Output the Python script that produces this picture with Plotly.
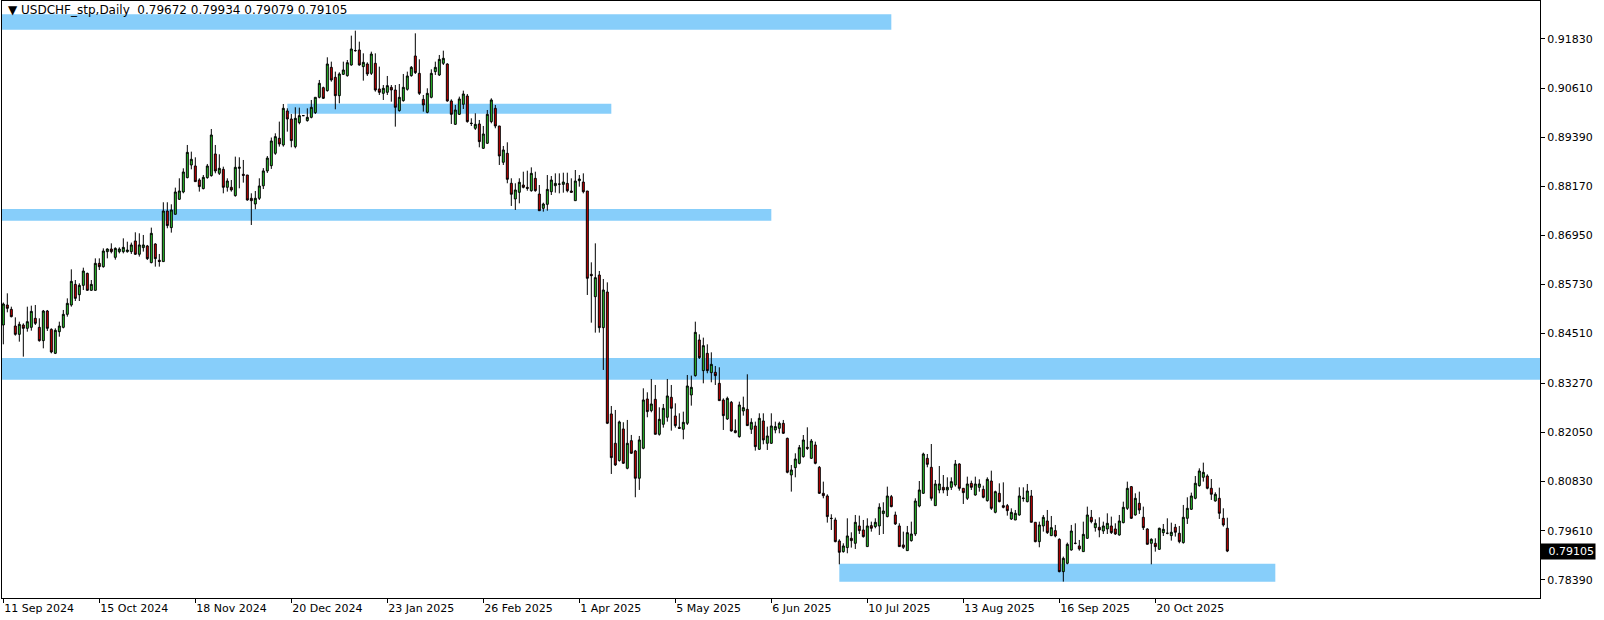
import pandas as pd
import plotly.graph_objects as go

# ---------------- data ----------------
symbol_title = "\u25BC USDCHF_stp,Daily\u00a0\u00a00.79672 0.79934 0.79079 0.79105"
last_price = 0.79105
start_date = "2024-09-11"

opens = [
    .84722, .85219, .85111, .84697, .84490, .84722, .84639, .84664, .84888, .84664,
    .84333, .85070, .84614, .84018, .84556, .84664, .84987, .85219, .85732, .85475,
    .85707, .86005, .85583, .85583, .86254, .86171, .86544, .86610, .86403, .86544,
    .86544, .86544, .86544, .86810, .86479, .86644, .86686, .86272, .86735, .86330,
    .86297, .87555, .87141, .87472, .87845, .88027, .88383, .88698, .88673, .88325,
    .88110, .88383, .88433, .88971, .88491, .88590, .88143, .88143, .87936, .88615,
    .88466, .88449, .87870, .87729, .87870, .88180, .88550, .88680, .88988, .89361,
    .89195, .90040, .89841, .89154, .89750, .89924, .89800, .89882, .89998, .90379,
    .90619, .90545, .91124, .90876, .90420, .90950, .90917, .91182, .91542, .91555,
    .91141, .91207, .90975, .91224, .90586, .90478, .90503, .90627, .90561, .90048,
    .90296, .90578, .90917, .91406, .90975, .90329, .90006, .90379, .91017, .90934,
    .91224, .91207, .90288, .89708, .89957, .90205, .90412, .89737, .89609, .89717,
    .89112, .89237, .89775, .90106, .89667, .88765, .88988, .88243, .87854, .88019,
    .88200, .88142, .88059, .88366, .87976, .87620, .87720, .88034, .88183, .88225,
    .88216, .88241, .88051, .87811, .88307, .88274, .88051, .85981, .85426, .85964,
    .84656, .85542, .82512, .81783, .81353, .82139, .81162, .81849, .81593, .80914,
    .81659, .82884, .82595, .82876, .82006, .82255, .82429, .82926, .82462, .82180,
    .82131, .82280, .82983, .83464, .84350, .83588, .84018, .83538, .83547, .83273,
    .82859, .82387, .82801, .82097, .81948, .82586, .82627, .82131, .82213, .81634,
    .82338, .81783, .81783, .82114, .82155, .82279, .81906, .80996, .81178, .81285,
    .81451, .81683, .81410, .81741, .81186, .80540, .80474, .79920, .79878, .79356,
    .79091, .79191, .79422, .79298, .79729, .79629, .79216, .79737, .79712, .79729,
    .80036, .79961, .80457, .80002, .79729, .79257, .79116, .79364, .79530, .80225,
    .80540, .81409, .81186, .80234, .80623, .80689, .80623, .80689, .80747, .81269,
    .80664, .80416, .80788, .80498, .80689, .80639, .80358, .80846, .80068, .80540,
    .80234, .80234, .79902, .79877, .80002, .80410, .80333, .80474, .79820, .79339,
    .79729, .79853, .79488, .79613, .79397, .78594, .78801, .79132, .79300, .79232,
    .79091, .79422, .79944, .79687, .79696, .79604, .79654, .79729, .79654, .79505,
    .79811, .80167, .80706, .80002, .80292, .79944, .79654, .79298, .79298, .79149,
    .79563, .79547, .79489, .79696, .79547, .79315, .79919, .80143, .80416, .80731,
    .80938, .80971, .80665, .80350, .80416, .79919, .79672,
]
highs = [
    .85280, .85509, .85177, .84912, .84805, .84763, .85177, .85202, .85219, .84888,
    .85095, .85095, .84639, .84639, .84805, .85095, .85384, .86105, .85840, .85757,
    .86146, .86022, .85840, .86378, .86378, .86626, .86626, .86751, .86651, .86651,
    .86875, .86792, .86769, .87025, .87000, .86959, .86711, .87141, .86752, .86487,
    .87771, .87771, .87721, .88135, .88367, .88615, .89195, .89029, .88888, .88367,
    .88449, .88723, .89592, .89195, .88963, .88656, .88367, .88325, .88905, .88888,
    .88822, .88449, .87994, .88052, .88367, .88620, .88920, .89380, .89485, .89775,
    .90213, .90106, .89965, .90131, .90122, .89935, .90106, .90313, .90379, .90810,
    .90644, .91373, .91265, .91017, .91000, .91265, .91306, .91911, .92035, .91762,
    .91472, .91248, .91513, .91472, .91141, .90685, .90909, .90685, .90685, .90710,
    .90959, .91017, .91157, .91969, .91323, .90437, .90603, .91075, .91265, .91431,
    .91538, .91224, .90329, .90189, .90396, .90545, .90462, .89857, .89982, .89816,
    .89667, .90064, .90354, .90189, .89667, .89170, .89261, .88367, .88243, .88367,
    .88531, .88556, .88639, .88531, .88200, .87761, .88448, .88424, .88490, .88490,
    .88506, .88506, .88366, .88573, .88448, .88490, .88051, .86279, .86751, .86064,
    .85865, .85782, .82710, .82611, .82346, .82305, .82363, .81990, .81618, .81965,
    .83149, .83050, .83381, .83232, .82677, .82760, .83381, .83232, .82776, .82528,
    .82569, .83480, .83464, .84805, .84490, .84408, .84242, .84043, .83704, .83671,
    .82900, .82942, .82834, .82379, .82818, .82942, .83497, .82404, .82321, .82528,
    .82528, .82197, .82528, .82321, .82320, .82362, .81923, .81244, .81534, .81741,
    .81989, .82180, .81890, .81824, .81219, .80830, .80515, .80019, .79936, .79398,
    .79298, .79919, .79571, .80002, .79986, .79878, .79919, .79836, .79919, .80292,
    .80317, .80706, .80499, .80085, .79795, .79588, .79729, .79836, .80416, .80846,
    .81550, .81517, .81765, .80871, .81219, .80995, .80937, .80937, .81368, .81285,
    .80664, .80954, .80855, .80954, .80888, .80730, .80937, .81103, .80606, .80788,
    .80813, .80275, .80167, .80126, .80689, .80689, .80772, .80623, .79820, .79836,
    .80002, .80126, .79977, .79754, .79422, .78967, .79315, .79754, .79795, .79381,
    .79836, .80209, .80126, .79894, .79944, .79836, .80043, .79961, .79795, .80002,
    .80333, .80830, .80722, .80540, .80581, .80209, .79671, .79422, .79422, .79687,
    .79778, .79919, .79811, .79779, .79729, .80251, .80441, .80557, .80971, .81161,
    .81302, .81012, .80896, .80565, .80681, .80168, .79934,
]
lows = [
    .84242, .85037, .84912, .84457, .84308, .83935, .84556, .84581, .84722, .84308,
    .84142, .84573, .84018, .84000, .84432, .84639, .84929, .85177, .85318, .85318,
    .85591, .85575, .85575, .85575, .86088, .86146, .86378, .86502, .86345, .86502,
    .86502, .86519, .86487, .86462, .86421, .86545, .86338, .86255, .86172, .86172,
    .86297, .87125, .87017, .87472, .87828, .87994, .88367, .88590, .88284, .88036,
    .88093, .88358, .88408, .88491, .88449, .87994, .88036, .88036, .87911, .88118,
    .88259, .87811, .87207, .87597, .87828, .88100, .88500, .88600, .88950, .89154,
    .89154, .89526, .89137, .89112, .89708, .89915, .89775, .89857, .89965, .90354,
    .90338, .90520, .90768, .90081, .90230, .90934, .90892, .91166, .91513, .91166,
    .90793, .90909, .90934, .90520, .90437, .90313, .90437, .90271, .89650, .90023,
    .90271, .90545, .90892, .90959, .90437, .90023, .89982, .90354, .90934, .90909,
    .91182, .90271, .89717, .89692, .89940, .90089, .89750, .89667, .89568, .89137,
    .89096, .89220, .89733, .89609, .88698, .88698, .88243, .87680, .87580, .87745,
    .88117, .88059, .88034, .88034, .87562, .87538, .87562, .87952, .88010, .87993,
    .88010, .88018, .88018, .87811, .88159, .87993, .85468, .84780, .84532, .84532,
    .83605, .82260, .81021, .81220, .81328, .81270, .81137, .81518, .80442, .80624,
    .81634, .82429, .82553, .82006, .81973, .82172, .82321, .82097, .82172, .82139,
    .81882, .82238, .82718, .83439, .83878, .83273, .83522, .83298, .83232, .82843,
    .82114, .82363, .82073, .82031, .81923, .82470, .82213, .82015, .81601, .81617,
    .81758, .81617, .81766, .82031, .82031, .82014, .81037, .80582, .80938, .81261,
    .81426, .81617, .81393, .81261, .80524, .80416, .79812, .79629, .79323, .78776,
    .79066, .79050, .79191, .79157, .79530, .79439, .79216, .79588, .79671, .79505,
    .79530, .79944, .80193, .79754, .79216, .79157, .79116, .79340, .79480, .80192,
    .80523, .81186, .80358, .80234, .80540, .80540, .80474, .80623, .80706, .80606,
    .80275, .80374, .80623, .80482, .80581, .80416, .80333, .80126, .80043, .80316,
    .80167, .79985, .79877, .79877, .79985, .80333, .80316, .79820, .79323, .79199,
    .79588, .79530, .79480, .79447, .78577, .78346, .78776, .79116, .79273, .79116,
    .79091, .79406, .79795, .79588, .79447, .79530, .79530, .79530, .79505, .79488,
    .79795, .80126, .79902, .79985, .80027, .79629, .79273, .78776, .79091, .79132,
    .79480, .79522, .79365, .79464, .79298, .79290, .79779, .80126, .80391, .80706,
    .80830, .80640, .80375, .80333, .79903, .79713, .79079,
]
closes = [
    .85244, .85136, .84929, .84490, .84739, .84639, .84805, .85061, .84763, .84333,
    .85070, .84639, .84051, .84590, .84697, .84987, .85260, .85807, .85384, .85707,
    .86063, .85583, .85732, .86254, .86171, .86560, .86610, .86544, .86626, .86610,
    .86651, .86585, .86711, .86479, .86711, .86711, .86371, .87000, .86371, .86300,
    .87555, .87191, .87580, .88027, .88052, .88524, .89012, .88839, .88284, .88160,
    .88391, .88673, .89443, .88549, .88615, .88143, .88300, .88077, .88640, .88640,
    .88441, .87828, .87811, .87870, .88176, .88550, .88870, .89294, .89402, .89220,
    .90106, .89841, .89303, .89857, .89924, .89924, .89882, .90131, .90379, .90727,
    .90354, .91207, .90810, .90420, .90959, .91058, .91240, .91580, .91538, .91182,
    .91248, .90959, .91455, .90561, .90503, .90603, .90669, .90561, .90131, .90379,
    .90627, .90909, .91124, .90992, .90478, .90189, .90478, .90975, .91124, .91323,
    .91348, .90288, .89957, .90064, .90338, .90462, .89775, .89729, .89708, .89278,
    .89468, .89957, .90313, .89667, .88922, .89071, .88342, .87970, .88077, .88268,
    .88142, .88117, .88490, .88059, .87562, .87728, .88092, .88324, .88241, .88221,
    .88274, .88059, .88018, .88299, .88349, .88034, .85882, .85948, .85898, .84656,
    .85592, .82280, .81427, .81245, .82313, .81286, .81783, .81535, .80914, .81866,
    .82860, .82570, .82760, .82006, .82379, .82652, .82959, .82652, .82222, .82155,
    .82304, .83207, .83174, .84540, .83911, .84209, .83588, .83745, .83464, .82843,
    .82470, .82900, .82089, .82048, .82735, .82669, .82222, .82304, .81700, .82404,
    .81866, .81965, .82213, .82197, .82280, .82031, .81062, .81120, .81393, .81675,
    .81865, .81658, .81840, .81285, .80540, .80482, .79961, .79915, .79340, .79075,
    .79232, .79481, .79365, .79820, .79613, .79464, .79729, .79671, .79820, .80193,
    .80102, .80474, .80209, .79779, .79216, .79199, .79563, .79530, .80349, .80623,
    .81517, .81260, .80416, .80772, .80772, .80623, .80689, .80830, .81269, .80664,
    .80557, .80772, .80689, .80772, .80772, .80441, .80888, .80167, .80581, .80333,
    .80192, .80109, .80068, .80043, .80474, .80420, .80598, .79820, .79339, .79753,
    .79944, .79563, .79687, .79480, .78594, .78925, .79273, .79604, .79296, .79157,
    .79521, .80002, .79836, .79795, .79629, .79729, .79795, .79563, .79530, .79853,
    .80192, .80664, .79919, .80416, .80126, .79687, .79273, .79397, .79215, .79671,
    .79646, .79547, .79572, .79572, .79340, .79944, .80168, .80474, .80789, .81095,
    .81062, .80665, .80516, .80516, .80044, .79754, .79105,
]

price_ticks = [0.78390, 0.79610, 0.80830, 0.82050, 0.83270, 0.84510,
               0.85730, 0.86950, 0.88170, 0.89390, 0.90610, 0.91830]

# support/resistance zones: first bar, last bar, low price, high price
zone_start = [-1, 71, -1, -1, 209]
zone_end = [222, 152, 192, 400, 318]
zone_low = [0.92058, 0.89970, 0.87310, 0.83360, 0.78340]
zone_high = [0.92441, 0.90220, 0.87605, 0.83905, 0.78793]

# ---------------- figure ----------------
n = len(opens)
dates = pd.bdate_range(start_date, periods=n)
xs = list(range(n))
tick_idx = list(range(0, n, 24))
tick_text = [f"{dates[i].day} {dates[i].strftime('%b %Y')}" for i in tick_idx]

GREEN = "#2ecc2e"
RED = "#d10000"
FONT = "DejaVu Sans"

fig = go.Figure()
fig.add_trace(go.Candlestick(
    x=xs, open=opens, high=highs, low=lows, close=closes,
    increasing=dict(line=dict(color="black", width=1), fillcolor=GREEN),
    decreasing=dict(line=dict(color="black", width=1), fillcolor=RED),
    hovertext=[d.strftime("%Y.%m.%d") for d in dates], hoverinfo="text+y",
    showlegend=False,
))

for x0, x1, lo, hi in zip(zone_start, zone_end, zone_low, zone_high):
    fig.add_shape(type="rect", xref="x", yref="y", x0=x0, x1=x1, y0=lo, y1=hi,
                  fillcolor="#87CEFA", line=dict(width=0), layer="below")

fig.add_annotation(text=symbol_title, xref="paper", yref="paper", x=0, y=1,
                   xanchor="left", yanchor="top", xshift=4, yshift=0,
                   showarrow=False, font=dict(family=FONT, size=12, color="black"))

fig.add_annotation(text=f"{last_price:.5f}", xref="paper", yref="y", x=1, y=last_price,
                   xanchor="left", yanchor="middle", showarrow=False,
                   bgcolor="black", borderpad=1, width=52, align="right",
                   font=dict(family=FONT, size=11, color="white"))

fig.update_layout(
    width=1604, height=620,
    margin=dict(l=2, r=64, t=1, b=22),
    paper_bgcolor="white", plot_bgcolor="white",
    font=dict(family=FONT, size=11, color="black"),
    showlegend=False,
    xaxis=dict(range=[-0.33, 384.17], rangeslider=dict(visible=False),
               tickmode="array", tickvals=tick_idx, ticktext=tick_text,
               ticks="outside", ticklen=4, tickcolor="black",
               ticklabelposition="outside right",
               showline=True, linecolor="black", linewidth=1, mirror=True,
               showgrid=False, zeroline=False),
    yaxis=dict(range=[0.77939, 0.92772], side="right",
               tickmode="array", tickvals=price_ticks,
               ticktext=[f"{v:.5f}" for v in price_ticks],
               ticks="outside", ticklen=4, tickcolor="black",
               showline=True, linecolor="black", linewidth=1, mirror=True,
               showgrid=False, zeroline=False),
)

fig.write_html("out.html", config={"displayModeBar": False},
               post_script="document.body.style.margin='0';document.body.style.overflow='hidden';")
